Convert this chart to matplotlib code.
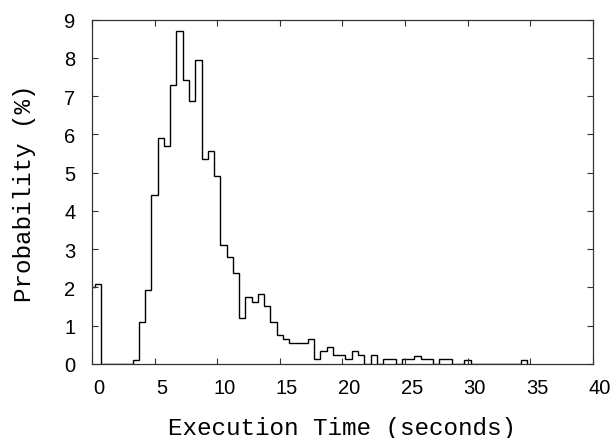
import numpy as np
import matplotlib
matplotlib.use('Agg')
import matplotlib.pyplot as plt
from matplotlib.transforms import ScaledTranslation

# histogram of execution times, 0.5 s bins centred on multiples of 0.5
bin_width = 0.5
first_centre = 0.0
prob = [2.02, 2.08, 0, 0, 0, 0, 0, 0.10, 1.09, 1.94,   # 0.0 - 4.5
        4.42, 5.91, 5.69, 7.30, 8.70, 7.42, 6.87, 7.94, 5.37, 5.58,   # 5.0 - 9.5
        4.92, 3.11, 2.80, 2.38, 1.20, 1.74, 1.62, 1.84, 1.52, 1.09,   # 10.0 - 14.5
        0.77, 0.66, 0.55, 0.55, 0.55, 0.66, 0.12, 0.35, 0.45, 0.24,   # 15.0 - 19.5
        0.24, 0.12, 0.35, 0.24, 0, 0.24, 0, 0.12, 0.12, 0,   # 20.0 - 24.5
        0.12, 0.12, 0.22, 0.12, 0.12, 0, 0.12, 0.12, 0, 0,   # 25.0 - 29.5
        0.10, 0, 0, 0, 0, 0, 0, 0, 0, 0.10]   # 30.0 - 34.5

x_ticks = [0, 5, 10, 15, 20, 25, 30, 35, 40]
y_ticks = [0, 1, 2, 3, 4, 5, 6, 7, 8, 9]

edges = first_centre - bin_width / 2 + bin_width * np.arange(len(prob) + 1)

fig = plt.figure(figsize=(6.15, 4.39), dpi=100)
ax = fig.add_axes([0.1496, 0.1686, 0.8141, 0.7842])

ax.stairs(prob, edges, color='black', lw=1.0, baseline=0)

ax.set_xlim(0, 40)
ax.set_ylim(0, 9)
ax.set_xticks(x_ticks)
ax.set_yticks(y_ticks)

tickfont = {'family': 'Liberation Sans', 'size': 14.5}
ax.set_xticklabels([str(t) for t in x_ticks], fontdict=tickfont)
ax.set_yticklabels([str(t) for t in y_ticks], fontdict=tickfont)
ax.tick_params(axis='both', direction='in', length=4, width=0.8,
               top=True, right=True, color='#333333')
ax.tick_params(axis='x', pad=10)
ax.tick_params(axis='y', pad=12)

# x labels sit a few pixels right of their ticks in the original
shift = ScaledTranslation(7 / 100, 0, fig.dpi_scale_trans)
for lab in ax.get_xticklabels():
    lab.set_transform(lab.get_transform() + shift)

for sp in ax.spines.values():
    sp.set_linewidth(0.9)
    sp.set_color('#333333')

labfont = {'family': 'Liberation Mono', 'size': 17.5}
ax.set_xlabel('Execution Time (seconds)', fontdict=labfont)
ax.set_ylabel('Probability (%)', fontdict=labfont)
ax.xaxis.set_label_coords(0.5, -0.15)
ax.yaxis.set_label_coords(-0.112, 0.5)

plt.savefig('out.png', dpi=100)
